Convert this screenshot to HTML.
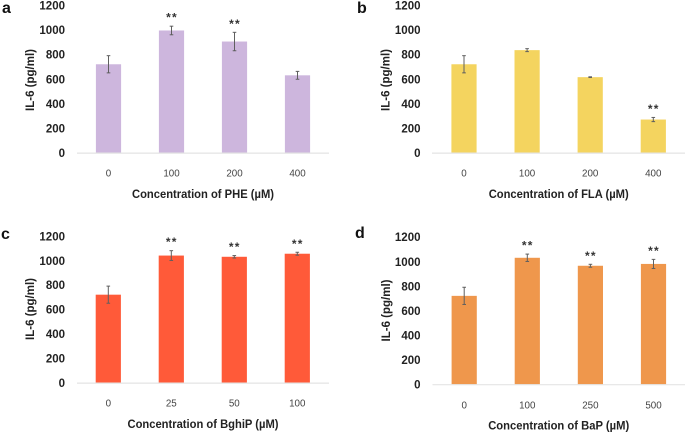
<!DOCTYPE html>
<html lang="en">
<head>
<meta charset="utf-8">
<title>IL-6 concentration charts</title>
<style>
html,body{margin:0;padding:0;background:#fff;width:685px;height:432px;overflow:hidden}
svg{display:block;filter:blur(.35px)}
text{font-family:"Liberation Sans",sans-serif}
.yt{font-size:11.5px;font-weight:bold;fill:#222;text-anchor:end;dominant-baseline:central}
.xt{font-size:9.8px;fill:#444;text-anchor:middle;dominant-baseline:central}
.ti{font-size:11.5px;font-weight:bold;fill:#222;text-anchor:middle;dominant-baseline:central}
.st{font-size:12px;font-weight:bold;fill:#333;text-anchor:middle;letter-spacing:1.2px}
.pl{font-size:16px;font-weight:bold;fill:#111}
</style>
</head>
<body>
<svg id="chart" xmlns="http://www.w3.org/2000/svg" width="685" height="432" viewBox="0 0 685 432"></svg>
<script>
var yTicks = [0, 200, 400, 600, 800, 1000, 1200];
var yAxisLabel = 'IL-6 (pg/ml)';

var pheCategories = ['0', '100', '200', '400'];
var pheValues = [720, 995, 905, 630];
var pheErrors = [70, 35, 75, 32];
var pheStars = ['', '**', '**', ''];

var flaCategories = ['0', '100', '200', '400'];
var flaValues = [720, 835, 615, 270];
var flaErrors = [70, 12, 3, 17];
var flaStars = ['', '', '', '**'];

var bghipCategories = ['0', '25', '50', '100'];
var bghipValues = [720, 1040, 1030, 1055];
var bghipErrors = [70, 40, 10, 12];
var bghipStars = ['', '**', '**', '**'];

var bapCategories = ['0', '100', '250', '500'];
var bapValues = [720, 1030, 965, 980];
var bapErrors = [70, 30, 12, 37];
var bapStars = ['', '**', '**', '**'];

var NS = 'http://www.w3.org/2000/svg';
var root = document.getElementById('chart');

function make(parent, tag, attrs, txt) {
  var el = document.createElementNS(NS, tag);
  for (var k in attrs) { el.setAttribute(k, attrs[k]); }
  if (txt !== undefined) { el.textContent = txt; }
  parent.appendChild(el);
  return el;
}

function drawPanel(p) {
  var g = make(root, 'g', {});
  
  

  function yScale(v) { return p.base - v * p.h / 1200; }
  function xScale(i) { return p.x0 + i * p.step; }

  var letter = make(g, 'text', {'class': 'pl', x: p.lx, y: p.ly}, p.id);
  
  

  yTicks.forEach(function (t) {
    var lab = make(g, 'text', {'class': 'yt', x: p.yr, y: yScale(t) + 1.3}, t);
    
    
  });

  p.values.forEach(function (v, i) {
    var cx = xScale(i);
    var bar = make(g, 'rect', {x: cx - 12.6, y: yScale(v), width: 25.2, height: p.base - yScale(v), fill: p.color});
    
    
  });

  var axis = make(g, 'line', {x1: p.ax0, x2: p.ax1, y1: p.base + .4, y2: p.base + .4, stroke: '#e4e4e4', 'stroke-width': 1.2});
  
  

  p.values.forEach(function (v, i) {
    var cx = xScale(i);
    var top = yScale(v + p.errors[i]);
    var bot = yScale(v - p.errors[i]);
    var eg = make(g, 'g', {stroke: '#5f5f5f', 'stroke-width': 1});
    
    
    make(eg, 'line', {x1: cx, x2: cx, y1: top, y2: bot});
    make(eg, 'line', {x1: cx - 1.8, x2: cx + 1.8, y1: top, y2: top});
    make(eg, 'line', {x1: cx - 1.8, x2: cx + 1.8, y1: bot, y2: bot});

    if (p.stars[i]) {
      var s = make(g, 'text', {'class': 'st', x: cx + .5, y: top - 4.5}, p.stars[i]);
      
      
    }

    var xl = make(g, 'text', {'class': 'xt', x: cx, y: p.base + 21.5}, p.categories[i]);
    
    
  });

  var xTitle = make(g, 'text', {'class': 'ti', x: p.tx, y: p.base + 42.3, textLength: p.tw, lengthAdjust: 'spacingAndGlyphs'}, p.title);
  
  

  var yTitle = make(g, 'text', {'class': 'ti', x: 0, y: 0, transform: 'translate(' + (p.ytx + 1) + ' ' + p.yty + ') rotate(-90)', textLength: 62, lengthAdjust: 'spacingAndGlyphs'}, yAxisLabel);
  
  
}

drawPanel({id: 'a', color: '#CDB6DD', base: 152.7, h: 147.4, x0: 108.5, step: 63, ax0: 77, ax1: 329, yr: 65, lx: 2, ly: 13,
  ytx: 30, yty: 80, tx: 203, tw: 142, title: 'Concentration of PHE (\u00B5M)',
  categories: pheCategories, values: pheValues, errors: pheErrors, stars: pheStars});

drawPanel({id: 'b', color: '#F4D45F', base: 152.7, h: 147.4, x0: 464, step: 63.1, ax0: 432, ax1: 685, yr: 420.5, lx: 357, ly: 13,
  ytx: 385.5, yty: 80, tx: 558.7, tw: 140, title: 'Concentration of FLA (\u00B5M)',
  categories: flaCategories, values: flaValues, errors: flaErrors, stars: flaStars});

drawPanel({id: 'c', color: '#FF5A39', base: 382.7, h: 146.7, x0: 108.3, step: 63, ax0: 77, ax1: 329, yr: 65, lx: 1, ly: 239,
  ytx: 30, yty: 309, tx: 203, tw: 151, title: 'Concentration of BghiP (\u00B5M)',
  categories: bghipCategories, values: bghipValues, errors: bghipErrors, stars: bghipStars});

drawPanel({id: 'd', color: '#EF974C', base: 384.3, h: 147.4, x0: 464.2, step: 63.1, ax0: 432.5, ax1: 685, yr: 420.5, lx: 355, ly: 238,
  ytx: 386, yty: 310.5, tx: 558.7, tw: 141, title: 'Concentration of BaP (\u00B5M)',
  categories: bapCategories, values: bapValues, errors: bapErrors, stars: bapStars});
</script>
</body>
</html>
